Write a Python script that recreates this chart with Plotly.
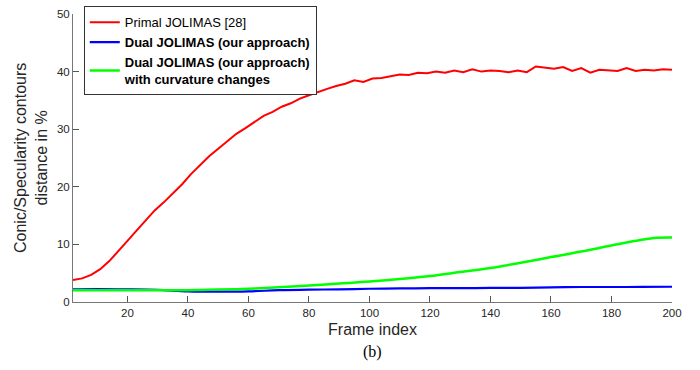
import plotly.graph_objects as go

# ---- data ----
frames_red = list(range(2, 201, 3))
primal = [3.8, 4.1, 4.7, 5.7, 7.1, 8.8, 10.6, 12.4, 14.2, 15.9, 17.3, 18.8, 20.4, 22.2,
          23.8, 25.3, 26.6, 27.9, 29.2, 30.2, 31.3, 32.3, 33.0, 33.9, 34.5, 35.3, 35.9,
          36.5, 37.0, 37.5, 37.9, 38.5, 38.2, 38.8, 38.9, 39.2, 39.5, 39.4, 39.8, 39.7,
          40.0, 39.8, 40.2, 39.9, 40.4, 40.0, 40.2, 40.1, 39.9, 40.2, 39.9, 40.9, 40.7,
          40.5, 40.8, 40.1, 40.6, 39.8, 40.3, 40.2, 40.1, 40.6, 40.1, 40.3, 40.2, 40.4, 40.3]

frames_blue = [2, 10, 20, 30, 40, 50, 60, 70, 80, 90, 100, 110, 120, 130, 140, 150, 160,
               170, 180, 190, 200]
dual = [2.2, 2.25, 2.2, 2.1, 1.85, 1.8, 1.85, 2.05, 2.15, 2.2, 2.3, 2.35, 2.4, 2.4, 2.45,
        2.45, 2.55, 2.6, 2.6, 2.62, 2.65]

frames_green = [2, 10, 20, 30, 40, 50, 60, 70, 80, 90, 100, 110, 120, 130, 140, 150, 160,
                170, 180, 190, 195, 200]
dual_curv = [2.05, 2.05, 2.05, 2.05, 2.05, 2.15, 2.3, 2.55, 2.85, 3.2, 3.55, 4.0, 4.5, 5.2,
             5.9, 6.8, 7.8, 8.75, 9.8, 10.8, 11.15, 11.2]

x_ticks = [20, 40, 60, 80, 100, 120, 140, 160, 180, 200]
y_ticks = [0, 10, 20, 30, 40, 50]

names = ["Primal JOLIMAS [28]",
         "<b>Dual JOLIMAS (our approach)</b>",
         "<b>Dual JOLIMAS (our approach)<br>with curvature changes</b>"]

fig = go.Figure()
fig.add_trace(go.Scatter(x=frames_red, y=primal, mode="lines", name=names[0],
                         line=dict(color="#ff0000", width=2)))
fig.add_trace(go.Scatter(x=frames_blue, y=dual, mode="lines", name=names[1],
                         line=dict(color="#0000ff", width=2.2, shape="spline")))
fig.add_trace(go.Scatter(x=frames_green, y=dual_curv, mode="lines", name=names[2],
                         line=dict(color="#00ff00", width=2.5, shape="spline")))

axis_font = dict(family="Liberation Sans, Arial, sans-serif", size=11.5, color="#262626")

fig.update_layout(
    width=700, height=370,
    margin=dict(l=73, r=28, t=6, b=68),
    paper_bgcolor="white", plot_bgcolor="white",
    font=dict(family="Liberation Sans, Arial, sans-serif", color="#262626"),
    showlegend=True,
    legend=dict(x=0.018, y=1.027, xanchor="left", yanchor="top",
                bgcolor="white", bordercolor="#333333", borderwidth=1,
                font=dict(size=13, color="#000000"),
                tracegroupgap=0, itemwidth=30, valign="middle"),
    xaxis=dict(range=[2, 200], tickvals=x_ticks, ticks="inside", ticklen=6,
               tickcolor="#555555", showline=True, linecolor="#777777", linewidth=1,
               showgrid=False, zeroline=False, tickfont=axis_font,
               title=dict(text="Frame index", font=dict(size=16, color="#262626"),
                          standoff=6)),
    yaxis=dict(range=[0, 50], tickvals=y_ticks, ticks="inside", ticklen=6,
               tickcolor="#555555", showline=True, linecolor="#777777", linewidth=1,
               showgrid=False, zeroline=False, tickfont=axis_font),
    annotations=[
        dict(text="Conic/Specularity contours<br>distance in %", textangle=-90,
             xref="paper", yref="paper", x=0, y=0.5, xanchor="center", yanchor="middle",
             xshift=-42, showarrow=False,
             font=dict(size=16, color="#262626", family="Liberation Sans, Arial, sans-serif")),
        dict(text="(b)", xref="paper", yref="paper", x=0.5, y=0, yanchor="middle",
             yshift=-50, showarrow=False,
             font=dict(size=16, color="#000000", family="Liberation Serif, Times New Roman, serif")),
    ],
)

fig.write_html("out.html")
